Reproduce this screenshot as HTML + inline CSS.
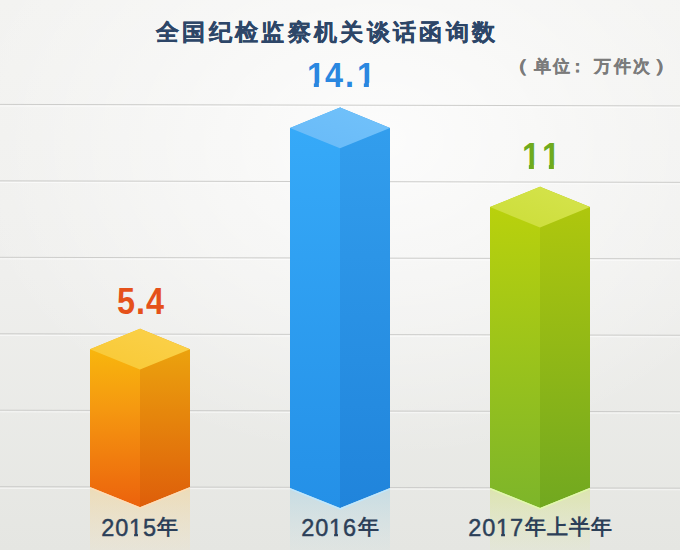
<!DOCTYPE html>
<html>
<head>
<meta charset="utf-8">
<style>
html,body{margin:0;padding:0;}
body{width:680px;height:550px;overflow:hidden;position:relative;font-family:"Liberation Sans", sans-serif;
background:radial-gradient(ellipse 420px 320px at 380px 140px,rgba(255,255,255,0.8) 0%,rgba(255,255,255,0.4) 50%,rgba(255,255,255,0) 100%),linear-gradient(180deg,#f3f3f1 0%,#efefed 50%,#e5e6e2 100%);}
svg{position:absolute;left:0;top:0;}
.t{position:absolute;white-space:nowrap;}
#title{left:156px;top:16.5px;font-size:23px;font-weight:900;color:#2d4668;letter-spacing:3.33px;line-height:30px;-webkit-text-stroke:0.3px #2d4668;}
.u{position:absolute;top:47px;width:40px;text-align:center;font-size:17px;font-weight:900;color:#7b7b7b;line-height:40px;-webkit-text-stroke:0.2px #7b7b7b;}
.v{position:absolute;left:0;top:0;white-space:nowrap;font-weight:bold;font-size:36px;line-height:40px;}
.g{position:absolute;display:inline-block;transform:scaleX(0.9);transform-origin:0 0;}
.s2 .g{transform:scale(0.9,0.965);}
.one{clip-path:polygon(0 0,100% 0,100% 27.6px,13.2px 27.6px,13.2px 100%,7.6px 100%,7.6px 27.6px,0 27.6px);}
.o1{display:inline-block;clip-path:polygon(0 0,100% 0,100% 22.6px,8.9px 22.6px,8.9px 100%,5.1px 100%,5.1px 22.6px,0 22.6px);}
.ld{position:absolute;top:511px;font-size:23.5px;letter-spacing:0.8px;color:#2c3f58;-webkit-text-stroke:0.45px #2c3f58;line-height:34px;white-space:nowrap;}
.lc{position:absolute;top:510.3px;font-size:20.5px;letter-spacing:1.0px;color:#2c3f58;font-weight:700;line-height:34px;white-space:nowrap;}
</style>
</head>
<body>
<svg width="680" height="550" viewBox="0 0 680 550">
<defs>
<linearGradient id="oL" x1="0" y1="0" x2="0" y2="1"><stop offset="0" stop-color="#f9c00c"/><stop offset="0.45" stop-color="#f59810"/><stop offset="1" stop-color="#ec620c"/></linearGradient>
<linearGradient id="oR" x1="0" y1="0" x2="0" y2="1"><stop offset="0" stop-color="#edab0e"/><stop offset="1" stop-color="#de5e0a"/></linearGradient>
<linearGradient id="bL" x1="0" y1="0" x2="0" y2="1"><stop offset="0" stop-color="#37abf9"/><stop offset="1" stop-color="#2490e7"/></linearGradient>
<linearGradient id="bR" x1="0" y1="0" x2="0" y2="1"><stop offset="0" stop-color="#339fee"/><stop offset="1" stop-color="#2084db"/></linearGradient>
<linearGradient id="gL" x1="0" y1="0" x2="0" y2="1"><stop offset="0" stop-color="#bdd30a"/><stop offset="1" stop-color="#7db52a"/></linearGradient>
<linearGradient id="gR" x1="0" y1="0" x2="0" y2="1"><stop offset="0" stop-color="#b3c90c"/><stop offset="1" stop-color="#71a820"/></linearGradient>
<linearGradient id="oRef" x1="0" y1="0" x2="0" y2="1"><stop offset="0" stop-color="#f2cf8a" stop-opacity="0.5"/><stop offset="1" stop-color="#f0dcb0" stop-opacity="0.2"/></linearGradient>
<linearGradient id="bRef" x1="0" y1="0" x2="0" y2="1"><stop offset="0" stop-color="#a6d0e2" stop-opacity="0.5"/><stop offset="1" stop-color="#c8dce0" stop-opacity="0.2"/></linearGradient>
<linearGradient id="gRef" x1="0" y1="0" x2="0" y2="1"><stop offset="0" stop-color="#d2e07a" stop-opacity="0.5"/><stop offset="1" stop-color="#dce4b0" stop-opacity="0.2"/></linearGradient>
<linearGradient id="oT" x1="0" y1="1" x2="1" y2="0"><stop offset="0" stop-color="#f8c834"/><stop offset="1" stop-color="#fbd24c"/></linearGradient>
<linearGradient id="bT" x1="0" y1="1" x2="1" y2="0"><stop offset="0" stop-color="#68baf8"/><stop offset="1" stop-color="#72c2fa"/></linearGradient>
<linearGradient id="gT" x1="0" y1="1" x2="1" y2="0"><stop offset="0" stop-color="#cbdd38"/><stop offset="1" stop-color="#d6e44e"/></linearGradient>
</defs>
<g stroke="#cdcdcb" stroke-width="1"><line x1="0" y1="104.40" x2="680" y2="105.90"/><line x1="0" y1="180.85" x2="680" y2="182.35"/><line x1="0" y1="257.30" x2="680" y2="258.80"/><line x1="0" y1="333.75" x2="680" y2="335.25"/><line x1="0" y1="410.20" x2="680" y2="411.70"/><line x1="0" y1="486.65" x2="680" y2="488.15"/></g><g stroke="#ffffff" stroke-opacity="0.6" stroke-width="1"><line x1="0" y1="106.00" x2="680" y2="107.50"/><line x1="0" y1="182.45" x2="680" y2="183.95"/><line x1="0" y1="258.90" x2="680" y2="260.40"/><line x1="0" y1="335.35" x2="680" y2="336.85"/><line x1="0" y1="411.80" x2="680" y2="413.30"/><line x1="0" y1="488.25" x2="680" y2="489.75"/></g>
<!-- orange -->
<polygon points="90,487 140,507.2 190,487 190,550 90,550" fill="url(#oRef)"/>
<polygon points="90,349.2 140,328.8 140.6,328.8 140.6,507.2 140,507.2 90,487" fill="url(#oL)"/>
<polygon points="140,328.8 190,349.2 190,487 140,507.2" fill="url(#oR)"/>
<polygon points="90,349.2 140,328.8 190,349.2 140,369.6" fill="url(#oT)"/>
<polyline points="90,487.8 140,508.0 190,487.8" fill="none" stroke="rgba(255,220,180,0.95)" stroke-width="1.4"/>
<!-- blue -->
<polygon points="290,488 340,508.1 390,488 390,550 290,550" fill="url(#bRef)"/>
<polygon points="290,127.9 340,107.5 340.6,107.5 340.6,508.1 340,508.1 290,488" fill="url(#bL)"/>
<polygon points="340,107.5 390,127.9 390,488 340,508.1" fill="url(#bR)"/>
<polygon points="290,127.9 340,107.5 390,127.9 340,148.3" fill="url(#bT)"/>
<polyline points="290,488.8 340,508.90000000000003 390,488.8" fill="none" stroke="rgba(190,232,255,0.95)" stroke-width="1.4"/>
<!-- green -->
<polygon points="490,487.8 540,507.9 590,487.8 590,550 490,550" fill="url(#gRef)"/>
<polygon points="490,207.1 540,186.7 540.6,186.7 540.6,507.9 540,507.9 490,487.8" fill="url(#gL)"/>
<polygon points="540,186.7 590,207.1 590,487.8 540,507.9" fill="url(#gR)"/>
<polygon points="490,207.1 540,186.7 590,207.1 540,227.5" fill="url(#gT)"/>
<polyline points="490,488.6 540,508.7 590,488.6" fill="none" stroke="rgba(225,250,170,0.95)" stroke-width="1.4"/>
</svg>
<div id="title" class="t">全国纪检监察机关谈话函询数</div>
<div class="u" style="left:498.9px;transform:scale(1.35,1.08);transform-origin:25px 20px">（</div><div class="u" style="left:522.1px">单</div><div class="u" style="left:541.5px">位</div><div class="u" style="left:557.4px">：</div><div class="u" style="left:582.8px">万</div><div class="u" style="left:602.8px">件</div><div class="u" style="left:621.6px">次</div><div class="u" style="left:644.3px;transform:scale(1.35,1.08);transform-origin:16px 20px">）</div>
<div class="v" style="color:#e5511a"><span class="g" style="left:116.6px;top:281.8px">5</span><span class="g" style="left:135.5px;top:281.8px">.</span><span class="g" style="left:146.1px;top:281.8px">4</span></div>
<div class="v s2" style="color:#2a87e0"><span class="g one" style="left:307.0px;top:56.2px">1</span><span class="g" style="left:325.0px;top:56.2px">4</span><span class="g" style="left:344.7px;top:56.2px">.</span><span class="g one" style="left:357.0px;top:56.2px">1</span></div>
<div class="v" style="color:#6fab1e"><span class="g one" style="left:522.0px;top:137.3px">1</span><span class="g one" style="left:541.9px;top:137.3px">1</span></div>
<div class="ld" style="left:101.3px">20<span class="o1">1</span>5</div><div class="lc" style="left:157.4px">年</div>
<div class="ld" style="left:301.3px">20<span class="o1">1</span>6</div><div class="lc" style="left:358px">年</div>
<div class="ld" style="left:468.3px">20<span class="o1">1</span>7</div><div class="lc" style="left:525px">年上半年</div>
</body>
</html>
